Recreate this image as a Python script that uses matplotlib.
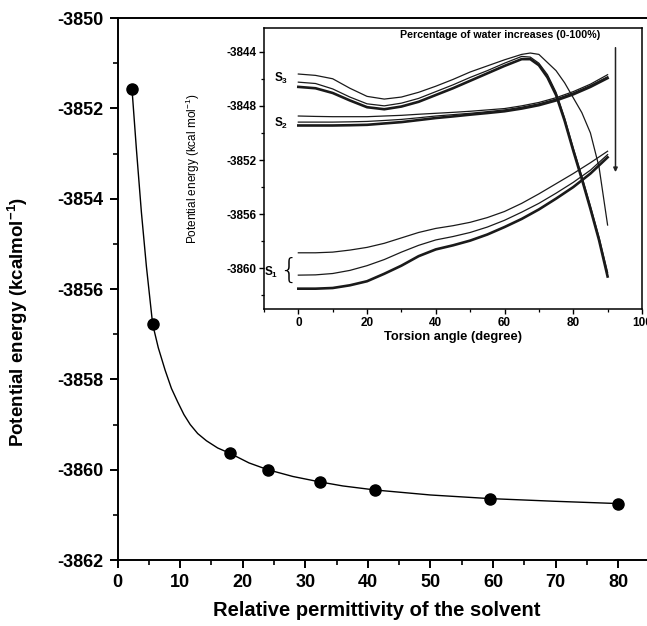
import numpy as np
import matplotlib
matplotlib.use('Agg')
import matplotlib.pyplot as plt
from matplotlib.ticker import MultipleLocator

plt.rcParams['font.family'] = ['Liberation Sans', 'DejaVu Sans']
plt.rcParams['mathtext.fontset'] = 'custom'
plt.rcParams['mathtext.rm'] = 'Liberation Sans'
plt.rcParams['mathtext.bf'] = 'Liberation Sans:bold'
plt.rcParams['axes.unicode_minus'] = False

# main plot: solvent permittivity vs energy
perm = [2.3, 5.6, 18.0, 24.0, 32.3, 41.2, 59.5, 80.0]
energy = [-3851.58, -3856.78, -3859.64, -3860.0, -3860.27, -3860.44, -3860.64, -3860.75]

# fitted curve
fit_x = [2.3, 3.0, 3.8, 4.6, 5.6, 6.5, 7.6, 8.6, 9.6, 10.6, 11.6, 12.8, 14.2, 16.0,
         18.0, 21.0, 24.0, 28.0, 32.3, 36.0, 41.2, 50.0, 59.5, 70.0, 80.0]
fit_y = [-3851.58, -3852.9, -3854.3, -3855.5, -3856.78, -3857.3, -3857.8, -3858.2,
         -3858.5, -3858.78, -3859.0, -3859.2, -3859.36, -3859.52, -3859.64, -3859.85,
         -3860.0, -3860.15, -3860.27, -3860.36, -3860.45, -3860.56, -3860.64, -3860.7,
         -3860.75]

# inset: torsion scans
ang = [0, 5, 10, 15, 20, 25, 30, 35, 40, 45, 50, 55, 60, 65, 70, 75, 80, 85, 90]
s1_a = [-3858.85, -3858.85, -3858.8, -3858.65, -3858.45, -3858.15, -3857.75, -3857.35,
        -3857.05, -3856.85, -3856.6, -3856.25, -3855.8, -3855.2, -3854.5, -3853.75,
        -3853.0, -3852.2, -3851.35]
s1_b = [-3860.5, -3860.48, -3860.38, -3860.15, -3859.8, -3859.35, -3858.8, -3858.3,
        -3857.9, -3857.65, -3857.35, -3856.95, -3856.45, -3855.85, -3855.2, -3854.45,
        -3853.65, -3852.75, -3851.6]
s1_c = [-3861.5, -3861.5, -3861.45, -3861.25, -3860.95, -3860.4, -3859.8, -3859.1,
        -3858.6, -3858.3, -3857.95, -3857.5, -3856.95, -3856.35, -3855.65, -3854.85,
        -3854.0, -3853.0, -3851.8]
s2_a = [-3848.75, -3848.78, -3848.8, -3848.8, -3848.8, -3848.75, -3848.7, -3848.62,
        -3848.55, -3848.48, -3848.4, -3848.3, -3848.2, -3848.0, -3847.75, -3847.4,
        -3846.95, -3846.4, -3845.7]
s2_b = [-3849.2, -3849.2, -3849.2, -3849.18, -3849.15, -3849.08, -3849.0, -3848.88,
        -3848.75, -3848.65, -3848.55, -3848.43, -3848.3, -3848.1, -3847.85, -3847.5,
        -3847.05, -3846.5, -3845.85]
s2_c = [-3849.45, -3849.45, -3849.45, -3849.43, -3849.4, -3849.3, -3849.2, -3849.05,
        -3848.9, -3848.78, -3848.65, -3848.53, -3848.4, -3848.2, -3847.95, -3847.6,
        -3847.15, -3846.6, -3845.95]

ang3 = [0, 5, 10, 15, 20, 25, 30, 35, 40, 45, 50, 55, 60, 65, 67.5, 70, 72.5, 75,
        77.5, 80, 82.5, 85, 87.5, 90]
s3_a = [-3845.65, -3845.75, -3846.0, -3846.7, -3847.3, -3847.5, -3847.35, -3847.0,
        -3846.55, -3846.05, -3845.5, -3845.05, -3844.6, -3844.2, -3844.1, -3844.2,
        -3844.8, -3845.4, -3846.3, -3847.4, -3848.5, -3850.0, -3852.5, -3856.8]
s3_b = [-3846.25, -3846.35, -3846.75, -3847.35, -3847.85, -3848.0, -3847.8, -3847.45,
        -3846.95, -3846.45, -3845.9, -3845.4, -3844.85, -3844.35, -3844.4, -3844.85,
        -3845.7, -3847.0, -3848.9, -3851.1, -3853.2, -3855.4, -3857.7, -3860.3]
s3_c = [-3846.6, -3846.7, -3847.05, -3847.6, -3848.1, -3848.25, -3848.05, -3847.7,
        -3847.2, -3846.7, -3846.15, -3845.6, -3845.05, -3844.55, -3844.55, -3845.0,
        -3845.9, -3847.2, -3849.1, -3851.3, -3853.4, -3855.6, -3857.9, -3860.6]

fig = plt.figure(figsize=(6.47, 6.26), dpi=100, facecolor='white')

# ---- main axes ----
ax = fig.add_axes([0.1818, 0.1054, 0.818, 0.8658])
ax.plot(fit_x, fit_y, color='black', lw=1.0, zorder=2)
ax.plot(perm, energy, 'o', color='black', ms=8, zorder=3)
ax.set_xlim(0, 84.6)
ax.set_ylim(-3862, -3850)
ax.xaxis.set_major_locator(MultipleLocator(10))
ax.xaxis.set_minor_locator(MultipleLocator(5))
ax.yaxis.set_major_locator(MultipleLocator(2))
ax.yaxis.set_minor_locator(MultipleLocator(1))
ax.tick_params(which='major', direction='out', length=6, width=1.4, labelsize=13, pad=4)
ax.tick_params(which='minor', direction='out', length=3.5, width=1.2)
for lab in ax.get_xticklabels() + ax.get_yticklabels():
    lab.set_fontweight('bold')
ax.spines['right'].set_visible(False)
for s in ['left', 'bottom', 'top']:
    ax.spines[s].set_linewidth(1.4)
ax.set_xlabel('Relative permittivity of the solvent', fontsize=14.5, fontweight='bold')
ax.set_ylabel(r'Potential energy (kcalmol$^{\mathbf{-1}}$)', fontsize=13.5, fontweight='bold')
ax.xaxis.set_label_coords(0.49, -0.075)
ax.yaxis.set_label_coords(-0.165, 0.44)

# ---- inset ----
ins = fig.add_axes([0.408, 0.5064, 0.5842, 0.4489])
lw_thin, lw_thick, lc = 0.9, 1.9, '#1a1a1a'
for yv, lw in [(s3_a, lw_thin), (s3_b, lw_thin), (s3_c, lw_thick)]:
    ins.plot(ang3, yv, color=lc, lw=lw)
for yv, lw in [(s2_a, lw_thin), (s2_b, lw_thin), (s2_c, lw_thick)]:
    ins.plot(ang, yv, color=lc, lw=lw)
for yv, lw in [(s1_a, lw_thin), (s1_b, lw_thin), (s1_c, lw_thick)]:
    ins.plot(ang, yv, color=lc, lw=lw)

ins.set_xlim(-10, 100)
ins.set_ylim(-3863.0, -3842.25)
ins.xaxis.set_major_locator(MultipleLocator(20))
ins.xaxis.set_minor_locator(MultipleLocator(10))
ins.yaxis.set_major_locator(MultipleLocator(4))
ins.yaxis.set_minor_locator(MultipleLocator(2))
ins.tick_params(which='major', direction='out', length=3.5, width=1.0, labelsize=8.5, pad=2)
ins.tick_params(which='minor', direction='out', length=2.2, width=0.9)
for lab in ins.get_xticklabels() + ins.get_yticklabels():
    lab.set_fontweight('bold')
for s in ins.spines.values():
    s.set_linewidth(1.1)
ins.set_xlabel('Torsion angle (degree)', fontsize=9.3, fontweight='bold', labelpad=2)
ins.set_ylabel(r'Potential energy (kcal mol$^{-1}$)', fontsize=8.5)
ins.yaxis.set_label_coords(-0.164, 0.5)

ins.text(-5, -3845.95, r'S$_\mathbf{3}$', fontsize=8.5, fontweight='bold', ha='center', va='center')
ins.text(-5, -3849.3, r'S$_\mathbf{2}$', fontsize=8.5, fontweight='bold', ha='center', va='center')
ins.text(-7.8, -3860.3, r'S$_\mathbf{1}$', fontsize=8.5, fontweight='bold', ha='center', va='center')
ins.text(-3.0, -3860.2, '{', fontsize=21, ha='center', va='center',
         family='DejaVu Sans', fontweight='light')
ins.text(58.7, -3842.75, 'Percentage of water increases (0-100%)', fontsize=7.7,
         fontweight='bold', ha='center', va='center')
ins.annotate('', xy=(92.3, -3853.1), xytext=(92.3, -3843.5),
             arrowprops=dict(arrowstyle='-|>', color='#222222', lw=1.1,
                             mutation_scale=6))

fig.savefig('out.png', dpi=100, facecolor='white')
